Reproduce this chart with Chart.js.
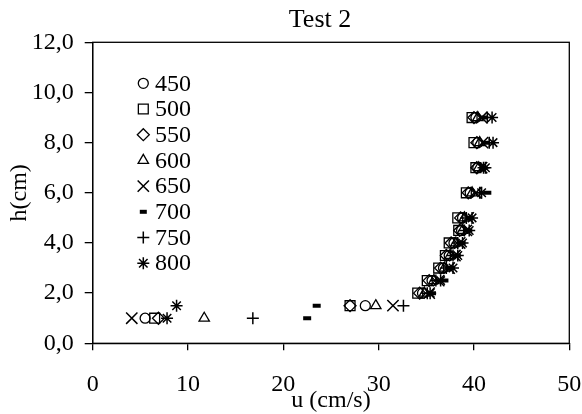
<!DOCTYPE html>
<html>
<head>
<meta charset="utf-8">
<script src="https://cdn.jsdelivr.net/npm/chart.js@4/dist/chart.umd.min.js"></script>
<style>
  html, body { margin: 0; padding: 0; background: #fff; }
  #wrap { width: 582px; height: 414px; position: relative; }
</style>
</head>
<body>
<div id="wrap"><canvas id="chart"></canvas></div>
<script>
// ---- data ----
const heights = [1.0, 1.5, 2.0, 2.5, 3.0, 3.5, 4.0, 4.5, 5.0, 6.0, 7.0, 8.0, 9.0];
const u450 = [5.5, 28.6, 34.6, 35.6, 36.8, 37.4, 37.9, 38.7, 38.8, 39.6, 40.4, 40.4, 40.2];
const u500 = [6.5, 27.0, 34.1, 35.1, 36.3, 37.0, 37.4, 38.4, 38.3, 39.2, 40.2, 40.0, 39.8];
const u550 = [6.9, 27.0, 34.3, 35.3, 36.5, 37.1, 37.6, 38.5, 38.6, 39.4, 40.3, 40.3, 40.0];
const u600 = [11.7, 29.7, 34.8, 35.8, 36.9, 37.5, 38.1, 38.8, 39.0, 39.8, 40.5, 40.6, 40.4];
const u650 = [4.1, 31.5, 35.3, 36.3, 37.4, 38.0, 38.5, 39.2, 39.4, 40.2, 40.8, 40.9, 40.8];
const u700 = [22.5, 23.5, 35.6, 36.9, 37.6, 38.2, 38.7, 39.4, 39.6, 41.4, 41.0, 41.2, 41.0];
const u750 = [16.8, 32.6, 35.1, 36.0, 37.1, 37.8, 38.3, 39.0, 39.2, 40.6, 41.0, 41.6, 41.4];
const u800 = [7.8, 8.8, 35.4, 36.5, 37.8, 38.3, 38.8, 39.5, 39.8, 40.8, 41.2, 42.0, 41.9];

const seriesLabels = ['450', '500', '550', '600', '650', '700', '750', '800'];
const seriesValues = [u450, u500, u550, u600, u650, u700, u750, u800];
const markerStyles = ['circle', 'rect', 'rectRot', 'triangle', 'crossRot', 'line', 'cross', 'star'];
const markerRadius = [5, 7, 6, 6, 8, 4, 6, 6];
const markerBorder = [1.3, 1.3, 1.3, 1.3, 1.5, 4, 1.5, 1.5];

const xTicks = [0, 10, 20, 30, 40, 50];
const yTicks = [0, 2, 4, 6, 8, 10, 12];

const SERIF = "'Times New Roman', 'Liberation Serif', serif";

// build scatter datasets (hollow markers, outlines overlap like in Excel)
const datasets = seriesLabels.map((lab, i) => ({
  label: lab,
  data: seriesValues[i].map((u, k) => ({ x: u, y: heights[k] })),
  pointStyle: markerStyles[i],
  pointRadius: markerRadius[i],
  pointHoverRadius: markerRadius[i],
  pointBorderWidth: markerBorder[i],
  borderColor: '#000',
  backgroundColor: 'rgba(255,255,255,0)',
  showLine: false
}));

// legend drawn inside the plot, plus the frame round the plot area
const insideLegend = {
  id: 'insideLegend',
  afterLayout(chart) {
    // Excel centres the title a bit right of the canvas middle
    const t = chart.titleBlock;
    if (t) { t.left = 58; t.right = 582; }
  },
  afterDatasetsDraw(chart) {
    const ctx = chart.ctx;
    const area = chart.chartArea;
    ctx.save();
    ctx.strokeStyle = '#000';
    ctx.lineWidth = 1.3;
    ctx.strokeRect(area.left, area.top, area.right - area.left, area.bottom - area.top);

    ctx.font = '24px ' + SERIF;
    ctx.textBaseline = 'middle';
    ctx.textAlign = 'left';
    seriesLabels.forEach((lab, i) => {
      const y = 83.3 + i * 25.7;
      ctx.fillStyle = '#fff';
      ctx.strokeStyle = '#000';
      ctx.lineWidth = markerBorder[i];
      Chart.helpers.drawPoint(ctx, {
        pointStyle: markerStyles[i],
        radius: markerRadius[i] === 4 ? 3.5 : markerRadius[i],
        rotation: 0,
        borderWidth: markerBorder[i]
      }, 143.3, y);
      ctx.fillStyle = '#000';
      ctx.fillText(lab, 155, y + 1);
    });
    ctx.restore();
  }
};

new Chart(document.getElementById('chart'), {
  type: 'scatter',
  data: { datasets },
  plugins: [insideLegend],
  options: {
    responsive: true,
    maintainAspectRatio: false,
    animation: false,
    layout: { padding: { left: 0, right: 12.7, top: 0, bottom: 0 } },
    plugins: {
      legend: { display: false },
      tooltip: { enabled: false },
      title: {
        display: true,
        text: 'Test 2',
        color: '#000',
        font: { family: SERIF, size: 26, weight: 'normal', lineHeight: 1.1 },
        padding: { top: 6, bottom: 7.7 }
      }
    },
    scales: {
      x: {
        type: 'linear',
        min: 0, max: 50,
        afterBuildTicks: s => { s.ticks = xTicks.map(v => ({ value: v })); },
        afterFit: s => { s.height = 70.7; s.paddingLeft = 0; s.paddingRight = 0; },
        grid: { drawOnChartArea: false, drawTicks: true, tickLength: 7, color: '#000', lineWidth: 1.3 },
        border: { display: true, color: '#000', width: 1.3 },
        ticks: { color: '#000', padding: 20, font: { family: SERIF, size: 24 } },
        title: {
          display: true,
          text: 'u (cm/s)',
          color: '#000',
          font: { family: SERIF, size: 24, lineHeight: 1.1 },
          padding: { top: 0, bottom: 0 }
        }
      },
      y: {
        type: 'linear',
        min: 0, max: 12,
        afterBuildTicks: s => { s.ticks = yTicks.map(v => ({ value: v })); },
        afterFit: s => { s.width = 92.7; s.paddingTop = 0; s.paddingBottom = 0; },
        grid: { drawOnChartArea: false, drawTicks: true, tickLength: 8, color: '#000', lineWidth: 1.3 },
        border: { display: true, color: '#000', width: 1.3 },
        ticks: {
          color: '#000',
          padding: 11,
          font: { family: SERIF, size: 24 },
          callback: v => v.toFixed(1).replace('.', ',')
        },
        title: {
          display: true,
          text: 'h(cm)',
          color: '#000',
          font: { family: SERIF, size: 24, lineHeight: 1.1 },
          padding: { top: 7, bottom: 0 }
        }
      }
    }
  }
});
</script>
</body>
</html>
